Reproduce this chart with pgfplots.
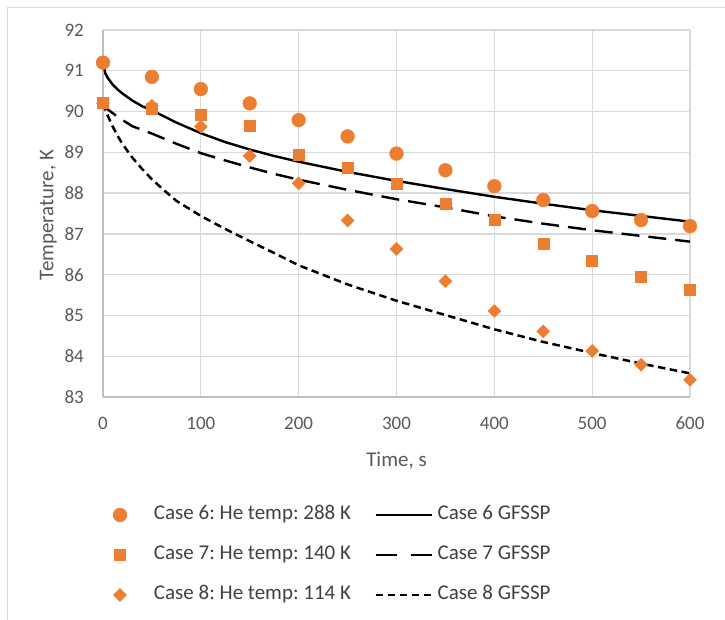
\documentclass[border=0pt]{standalone}
\usepackage{pgfplots}
\pgfplotsset{compat=1.18}
\usepackage{fontspec}
\setmainfont{Carlito}
\frenchspacing
\definecolor{orng}{HTML}{ED7D31}
\definecolor{txtgray}{HTML}{595959}
\definecolor{legtxt}{HTML}{404040}
\definecolor{gridgray}{HTML}{D9D9D9}
\definecolor{axgray}{HTML}{BFBFBF}
\definecolor{framegray}{HTML}{D9D9D9}
\pgfplotsset{
  mleg/.style={legend image code/.code={%
    \path[draw=none, fill=none] (-8pt,0pt) -- (34pt,0pt);
    \draw[##1, only marks] plot coordinates {(0pt,0pt)};}},
  lleg/.style={legend image code/.code={%
    \path[draw=none, fill=none] (0pt,0pt) -- (62pt,0pt);
    \draw[##1] (0pt,0pt) -- (56pt,0pt);}},
  llegd/.style={legend image code/.code={%
    \path[draw=none, fill=none] (0pt,0pt) -- (62pt,0pt);
    \draw[##1, dash pattern=on 21pt off 14pt] (0pt,0pt) -- (56pt,0pt);}},
}
\begin{document}
\begin{tikzpicture}
\begin{axis}[
  name=ax, anchor=south west,
  scale only axis, width=587pt, height=367pt,
  xmin=0, xmax=600, ymin=83, ymax=92,
  xtick={0,100,...,600}, ytick={83,84,...,92},
  axis x line*=bottom, axis y line*=left,
  axis line style={axgray, line width=1.3pt},
  major tick length=0pt,
  grid=major, major grid style={gridgray, line width=1.3pt},
  clip=false,
  /pgf/number format/assume math mode=true,
  ticklabel style={font=\fontsize{19}{22}\selectfont, text=txtgray, inner sep=0pt},
  xticklabel style={anchor=center, yshift=-26pt},
  yticklabel style={anchor=east, xshift=-19pt},
  xlabel={Time, s}, ylabel={Temperature, K},
  every axis x label/.style={at={(axis description cs:0.5,-0.172)}, anchor=center, font=\fontsize{21}{24}\selectfont, text=txtgray},
  every axis y label/.style={at={(axis description cs:-0.093,0.496)}, anchor=center, rotate=90, font=\fontsize{21}{24}\selectfont, text=txtgray},
  legend columns=2,
  legend style={draw=none, fill=none, inner sep=0pt, outer sep=0pt,
    at={(axis description cs:0.0153,-0.297)}, anchor=north west,
    font=\fontsize{21}{24}\selectfont, text=legtxt,
    row sep=22pt,
    nodes={inner sep=0pt, text height=14pt, text depth=4pt},
    /tikz/every even column/.append style={column sep=23.5pt}},
  legend cell align=left,
]
\addplot[only marks, mark=*, mark size=6.9pt, color=orng, mleg] coordinates {
(0,91.20) (50,90.85) (100,90.55) (150,90.20) (200,89.79) (250,89.39) (300,88.97)
(350,88.56) (400,88.17) (450,87.83) (500,87.56) (550,87.34) (600,87.19)};
\addlegendentry{Case 6: He temp: 288 K}
\addplot[black, line width=2.4pt, lleg] coordinates {
(0,91.20) (2.5,90.93) (5,90.82) (10,90.66) (15,90.54) (20,90.44) (30,90.27) (40,90.13)
(50,90.03) (75,89.73) (100,89.47) (125,89.25) (150,89.07) (175,88.91) (200,88.77)
(250,88.52) (300,88.30) (350,88.10) (400,87.91) (450,87.74) (500,87.58) (550,87.44) (600,87.30)};
\addlegendentry{Case 6 GFSSP}
\addplot[only marks, mark=square*, mark size=5.5pt, color=orng, mleg] coordinates {
(0,90.22) (50,90.06) (100,89.93) (150,89.65) (200,88.95) (250,88.63) (300,88.23)
(350,87.73) (400,87.34) (450,86.75) (500,86.34) (550,85.94) (600,85.64)};
\addlegendentry{Case 7: He temp: 140 K}
\addplot[black, line width=2.4pt, dash pattern=on 18pt off 9pt, llegd] coordinates {
(0,90.20) (2.5,90.11) (5,90.05) (10,89.96) (15,89.87) (20,89.79) (30,89.64) (40,89.55)
(50,89.46) (75,89.21) (100,88.98) (125,88.80) (150,88.63) (175,88.47) (200,88.33)
(250,88.08) (300,87.85) (350,87.65) (400,87.43) (450,87.25) (500,87.09) (550,86.95) (600,86.81)};
\addlegendentry{Case 7 GFSSP}
\addplot[only marks, mark=square*, mark size=4.6pt, mark options={rotate=45}, color=orng, mleg] coordinates {
(0,90.20) (50,90.14) (100,89.63) (150,88.91) (200,88.24) (250,87.33) (300,86.63)
(350,85.84) (400,85.11) (450,84.61) (500,84.13) (550,83.79) (600,83.42)};
\addlegendentry{Case 8: He temp: 114 K}
\addplot[black, line width=2.5pt, dash pattern=on 7.5pt off 4.5pt, lleg] coordinates {
(0,90.20) (2.5,90.04) (5,89.89) (10,89.63) (15,89.40) (20,89.20) (30,88.87) (40,88.59)
(50,88.34) (60,88.12) (75,87.81) (100,87.44) (125,87.12) (150,86.82) (175,86.53) (200,86.23)
(250,85.76) (300,85.36) (350,85.01) (400,84.66) (450,84.35) (500,84.08) (550,83.82) (600,83.58)};
\addlegendentry{Case 8 GFSSP}
\end{axis}
\pgfresetboundingbox
\path[use as bounding box] ([shift={(-103pt,-223pt)}]ax.south west) rectangle ([shift={(622pt,397pt)}]ax.south west);
\draw[framegray, line width=1pt] ([shift={(-95.5pt,-223pt)}]ax.south west) -- ([shift={(-95.5pt,389.5pt)}]ax.south west) -- ([shift={(622pt,389.5pt)}]ax.south west);
\end{tikzpicture}
\end{document}
